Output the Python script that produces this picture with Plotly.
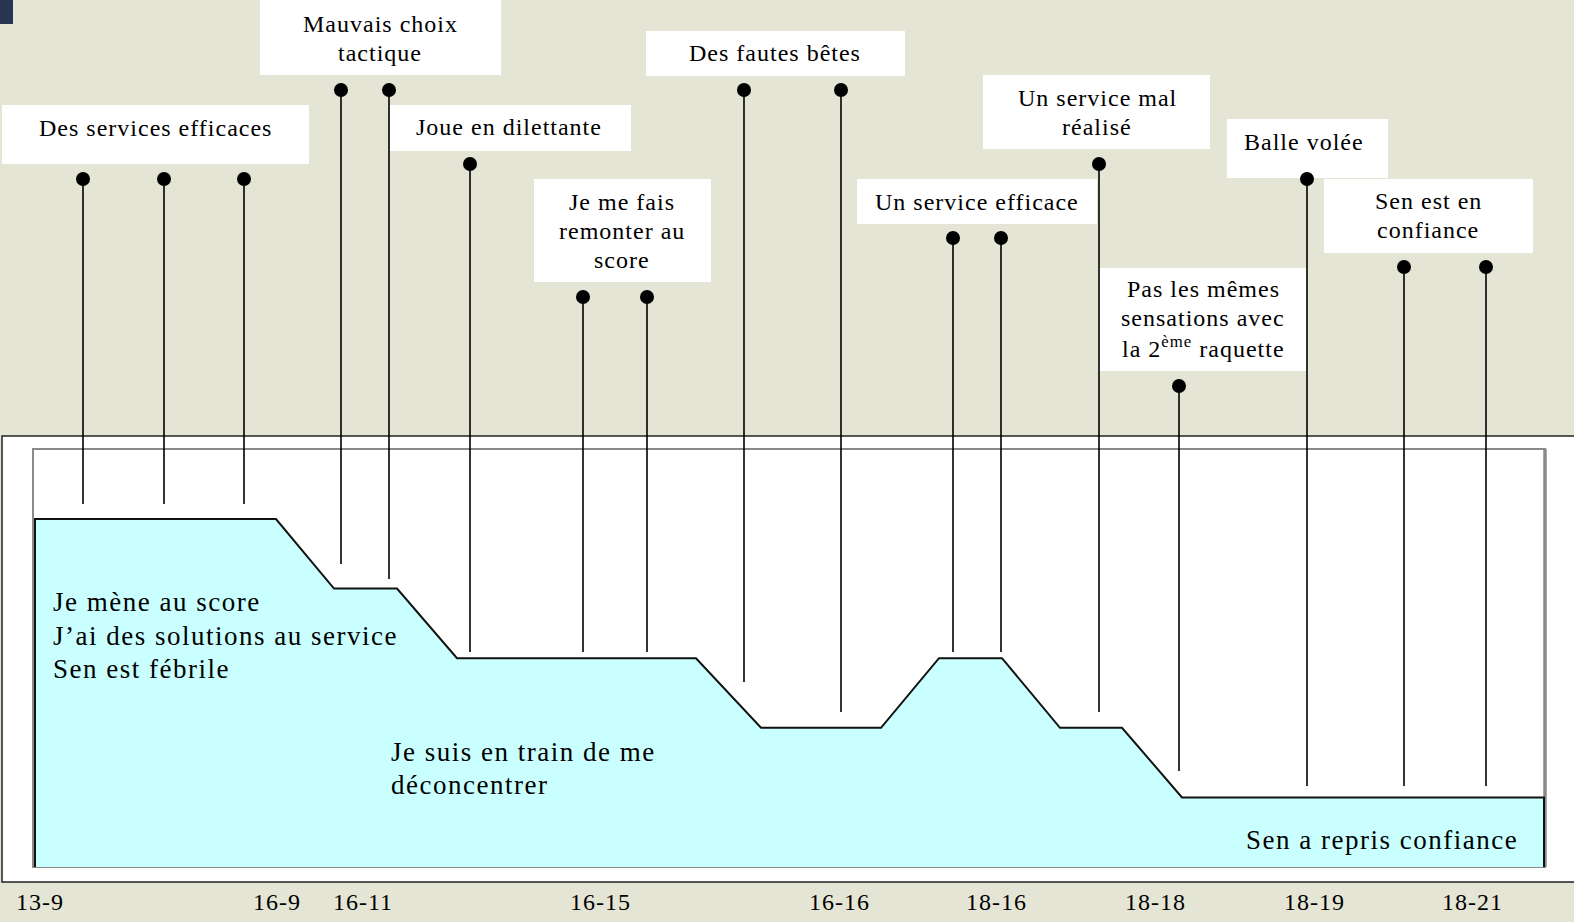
import plotly.graph_objects as go

# ---------------- data ----------------
# confidence profile (timeline position, confidence level 0..5)
profile_x = [35, 276, 334, 397, 457, 696, 761, 881, 939, 1002, 1060, 1122, 1182, 1544]
profile_level = [5, 5, 4, 4, 3, 3, 2, 2, 3, 3, 2, 2, 1, 1]

# events: timeline position, pin-head height, pin foot
event_x = [83, 164, 244, 341, 389, 470, 583, 647, 744, 841, 953, 1001, 1099, 1179, 1307, 1404, 1486]
event_top = [179, 179, 179, 90, 90, 164, 297, 297, 90, 90, 238, 238, 164, 386, 179, 267, 267]
event_foot = [504, 504, 504, 564, 579, 652, 652, 652, 682, 712, 652, 652, 712, 771, 786, 786, 786]

# scores along the timeline
score_x = [40, 277, 363, 600, 839, 996, 1155, 1314, 1472]
score_labels = ["13-9", "16-9", "16-11", "16-15", "16-16", "18-16", "18-18", "18-19", "18-21"]

# event comments
event_labels = [
    ["Des services efficaces"],
    ["Mauvais choix", "tactique"],
    ["Joue en dilettante"],
    ["Je me fais", "remonter au", "score"],
    ["Des fautes bêtes"],
    ["Un service efficace"],
    ["Un service mal", "réalisé"],
    ["Balle volée"],
    ["Sen est en", "confiance"],
    ["Pas les mêmes", "sensations avec", "la 2<sup>ème</sup> raquette"],
]

# phase comments
phase_texts = [
    ["Je mène au score", "J’ai des solutions au service", "Sen est fébrile"],
    ["Je suis en train de me", "déconcentrer"],
    ["Sen a repris confiance"],
]

# ---------------- layout / style ----------------
W, H = 1574, 922
BASE_Y, LEVEL_STEP = 867, 69.6
BG = "#e4e5d5"
CYAN = "#c9ffff"
FONT = "Liberation Serif, Times New Roman, Times, serif"

# label boxes: (x0, y0, x1, y1, center x, first line y)
label_boxes = [
    (2, 105, 309, 164, 155, 128),
    (260, 0, 501, 75, 380, 24),
    (390, 105, 631, 151, 509, 127),
    (534, 179, 711, 282, 622, 202),
    (646, 31, 905, 76, 775, 53),
    (857, 179, 1097, 224, 977, 202),
    (983, 75, 1210, 149, 1097, 98),
    (1227, 119, 1388, 178, 1304, 142),
    (1324, 179, 1533, 253, 1428, 201),
    (1099, 268, 1307, 371, 1203, 289),
]
LABEL_GAP = 29.2
phase_pos = [(51, 602, "left", 33.5), (389, 752, "left", 32.5), (1520, 840, "right", 33)]


def sp(t, ls):
    return f'<span style="letter-spacing:{ls}px">{t}</span>'


fig = go.Figure()

# confidence area
poly_x = [profile_x[0]] + profile_x + [profile_x[-1]]
poly_y = [BASE_Y] + [BASE_Y - l * LEVEL_STEP for l in profile_level] + [BASE_Y]
fig.add_trace(go.Scatter(
    x=poly_x, y=poly_y, mode="lines", fill="toself", fillcolor=CYAN,
    line=dict(color="#111111", width=2), hoverinfo="skip", showlegend=False))

# stems
sx, sy = [], []
for x, t, f in zip(event_x, event_top, event_foot):
    sx += [x, x, None]
    sy += [t, f, None]
fig.add_trace(go.Scatter(x=sx, y=sy, mode="lines", line=dict(color="black", width=1.6),
                         hoverinfo="skip", showlegend=False))
fig.add_trace(go.Scatter(x=event_x, y=event_top, mode="markers",
                         marker=dict(color="black", size=14), hoverinfo="skip", showlegend=False))

shapes = [
    # small dark square top-left
    dict(type="rect", x0=0, y0=0, x1=13, y1=24, fillcolor="#283450", line=dict(width=0), layer="below"),
    # outer white panel
    dict(type="rect", x0=2, y0=436, x1=W + 10, y1=882, fillcolor="white",
         line=dict(color="#222222", width=1.5), layer="below"),
    # inner frame
    dict(type="rect", x0=33, y0=449, x1=1545, y1=BASE_Y, fillcolor="white",
         line=dict(color="#8a8a8a", width=2), layer="below"),
    dict(type="line", x0=1545, y0=449, x1=1545, y1=BASE_Y, line=dict(color="#8a8a8a", width=3.5), layer="below"),
]
annotations = []
for lines, (x0, y0, x1, y1, cx, ly) in zip(event_labels, label_boxes):
    shapes.append(dict(type="rect", x0=x0, y0=y0, x1=x1, y1=y1, fillcolor="white",
                       line=dict(width=0), layer="below"))
    for i, ln in enumerate(lines):
        annotations.append(dict(x=cx, y=ly + i * LABEL_GAP, text=sp(ln, 1), showarrow=False,
                                xanchor="center", yanchor="middle",
                                font=dict(family=FONT, size=24, color="black")))

for lines, (px, py, anchor, gap) in zip(phase_texts, phase_pos):
    for i, ln in enumerate(lines):
        annotations.append(dict(x=px, y=py + i * gap, text=sp(ln, 1.5), showarrow=False,
                                xanchor=anchor, yanchor="middle",
                                font=dict(family=FONT, size=27, color="black")))

for x, t in zip(score_x, score_labels):
    annotations.append(dict(x=x, y=902, text=sp(t, 1), showarrow=False, xanchor="center",
                            yanchor="middle", font=dict(family=FONT, size=24, color="black")))

fig.update_layout(
    width=W, height=H, margin=dict(l=0, r=0, t=0, b=0),
    paper_bgcolor=BG, plot_bgcolor=BG,
    font=dict(family=FONT),
    xaxis=dict(range=[0, W], visible=False, fixedrange=True),
    yaxis=dict(range=[H, 0], visible=False, fixedrange=True),
    shapes=shapes, annotations=annotations, showlegend=False,
)

fig.write_html(
    "out.html",
    config={"displayModeBar": False, "staticPlot": True},
    post_script="document.body.style.margin='0';document.body.style.overflow='hidden';",
)
